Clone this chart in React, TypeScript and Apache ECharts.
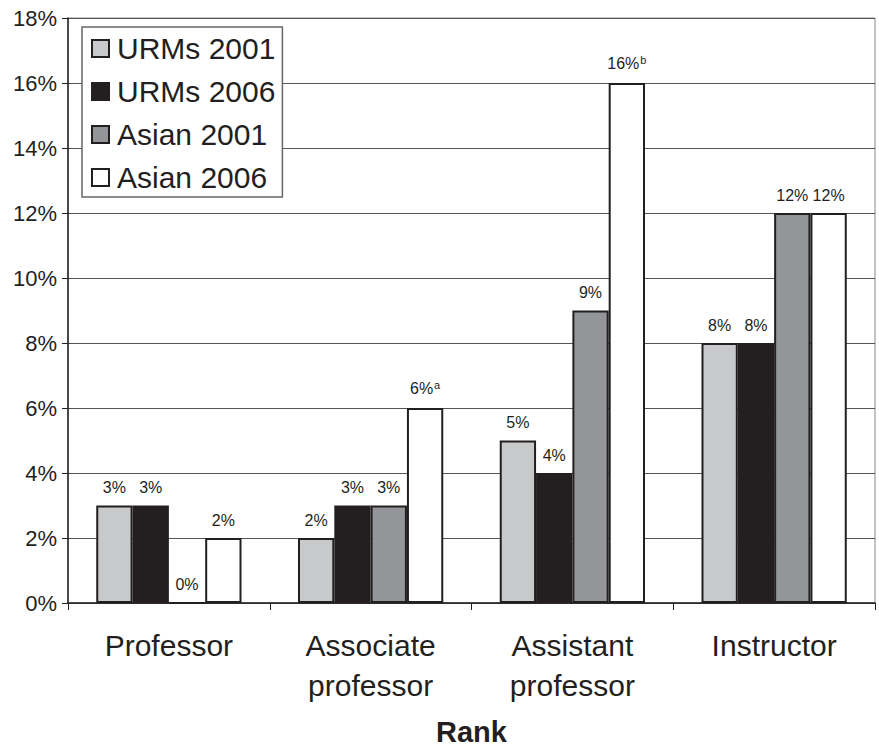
import React, { useEffect, useRef } from "react";
import * as echarts from "echarts";

const categories = ["Professor", "Associate\nprofessor", "Assistant\nprofessor", "Instructor"];
const seriesNames = ["URMs 2001", "URMs 2006", "Asian 2001", "Asian 2006"];
const urms2001 = [3, 2, 5, 8];
const urms2006 = [3, 3, 4, 8];
const asian2001 = [0, 3, 9, 12];
const asian2006 = [2, 6, 16, 12];
const footnotes: (string | null)[][] = [
  [null, null, null, null],
  [null, null, null, null],
  [null, null, null, null],
  [null, "a", "b", null],
];
const yTicks = [0, 2, 4, 6, 8, 10, 12, 14, 16, 18];

const colors = ["#c8c9cb", "#231f20", "#939598", "#ffffff"];
const FONT = "Liberation Sans, Arial, Helvetica, sans-serif";

export default function App() {
  const ref = useRef<HTMLDivElement>(null);
  useEffect(() => {
    if (!ref.current) return;
    const chart = echarts.init(ref.current, null, { renderer: "svg" });
    const allData = [urms2001, urms2006, asian2001, asian2006];
    chart.setOption({
      animation: false,
      backgroundColor: "#ffffff",
      textStyle: { fontFamily: FONT },
      grid: {
        left: 68,
        right: 4,
        top: 18,
        height: 585,
        show: true,
        borderColor: "#8a8a8a",
        borderWidth: 1,
        outerBoundsMode: "none",
        containLabel: false,
      },
      legend: {
        data: seriesNames,
        orient: "vertical",
        left: 82,
        top: 27,
        backgroundColor: "#ffffff",
        borderColor: "#666666",
        borderWidth: 1.5,
        padding: [6, 7, 4, 9],
        itemWidth: 17,
        itemHeight: 17,
        itemGap: 12,
        icon: "rect",
        textStyle: {
          fontFamily: FONT,
          fontSize: 30,
          color: "#231f20",
          lineHeight: 31,
          padding: [0, 0, 0, 3],
        },
      },
      xAxis: {
        type: "category",
        data: categories,
        name: "Rank",
        nameLocation: "middle",
        nameGap: 114,
        nameTextStyle: {
          fontFamily: FONT,
          fontSize: 29,
          lineHeight: 29,
          fontWeight: "bold",
          color: "#231f20",
        },
        axisLine: { show: true, lineStyle: { color: "#231f20", width: 1.5 } },
        axisTick: { show: true, length: 7, lineStyle: { color: "#231f20", width: 1 } },
        axisLabel: {
          fontFamily: FONT,
          fontSize: 30,
          color: "#231f20",
          lineHeight: 40,
          margin: 22,
          interval: 0,
        },
      },
      yAxis: {
        type: "value",
        min: 0,
        max: 18,
        interval: 2,
        axisLine: { show: true, lineStyle: { color: "#231f20", width: 1.5 } },
        axisTick: { show: true, length: 6, lineStyle: { color: "#231f20", width: 1 } },
        axisLabel: {
          fontFamily: FONT,
          fontSize: 22,
          color: "#231f20",
          margin: 11,
          formatter: (v: number) => (yTicks.includes(v) ? `${v}%` : ""),
        },
        splitLine: { show: true, lineStyle: { color: "#555555", width: 1.2 } },
      },
      series: seriesNames.map((name, si) => ({
        name,
        type: "bar",
        data: allData[si],
        barGap: "0%",
        barCategoryGap: "28%",
        itemStyle: {
          color: colors[si],
          borderColor: "#231f20",
          borderWidth: 2,
        },
        label: {
          show: true,
          position: "top",
          distance: 10,
          fontFamily: FONT,
          fontSize: 16,
          color: "#231f20",
          formatter: (p: any) => {
            const fn = footnotes[si][p.dataIndex];
            return fn ? `{v|${p.value}%}{s|${fn}}` : `{v|${p.value}%}`;
          },
          rich: {
            v: { fontFamily: FONT, fontSize: 16, color: "#231f20" },
            s: { fontFamily: FONT, fontSize: 11, color: "#231f20", verticalAlign: "top", padding: [0, 0, 8, 1] },
          },
        },
      })),
    });
    return () => chart.dispose();
  }, []);
  return (
    <div
      ref={ref}
      style={{ position: "fixed", left: 0, top: 0, width: 879, height: 746 }}
    />
  );
}
